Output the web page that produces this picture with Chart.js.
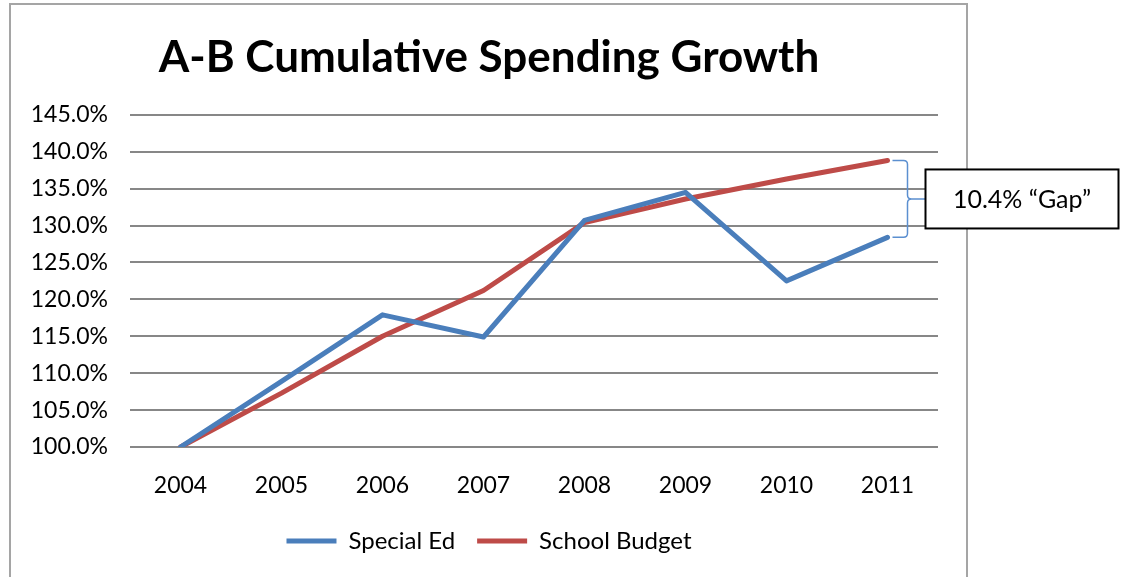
<!DOCTYPE html>
<html>
<head>
<meta charset="utf-8">
<script src="https://cdn.jsdelivr.net/npm/chart.js@4.4.1/dist/chart.umd.min.js"></script>
<style>
  html, body { margin: 0; padding: 0; background: #fff; }
  #wrap { width: 1125px; height: 577px; }
</style>
</head>
<body>
<div id="wrap"><canvas id="growthChart" width="1125" height="577"></canvas></div>
<script>
const years = ["2004", "2005", "2006", "2007", "2008", "2009", "2010", "2011"];
const specialEd = [100.0, 108.9, 117.9, 114.9, 130.7, 134.5, 122.5, 128.4];
const schoolBudget = [100.0, 107.3, 115.0, 121.2, 130.4, 133.6, 136.3, 138.8];
const yTicks = [100, 105, 110, 115, 120, 125, 130, 135, 140, 145];
const gapLabel = "10.4% \u201cGap\u201d";

const FONT = "Lato, 'Open Sans', sans-serif";
const BLUE = "#4a7ebb";
const RED = "#be4b48";

// outer frame of the chart box, runs off the bottom edge
const framePlugin = {
  id: "frame",
  beforeDraw(chart) {
    const ctx = chart.ctx;
    ctx.save();
    ctx.strokeStyle = "#a5a5a5";
    ctx.lineWidth = 2;
    ctx.strokeRect(10, 4, 957, 600);
    ctx.restore();
  }
};

// bracket between the two 2011 values plus the callout box
const gapPlugin = {
  id: "gapCallout",
  afterDatasetsDraw(chart) {
    const ctx = chart.ctx;
    const x = chart.scales.x.getPixelForValue(years.length - 1);
    const yTop = chart.scales.y.getPixelForValue(schoolBudget[schoolBudget.length - 1]);
    const yBot = chart.scales.y.getPixelForValue(specialEd[specialEd.length - 1]);
    const yMid = (yTop + yBot) / 2;
    const x0 = x + 5, xb = x + 20, r = 4;

    ctx.save();
    ctx.strokeStyle = "#5b8fd0";
    ctx.lineWidth = 1.5;
    ctx.beginPath();
    ctx.moveTo(x0, yTop);
    ctx.lineTo(xb - r, yTop);
    ctx.quadraticCurveTo(xb, yTop, xb, yTop + r);
    ctx.lineTo(xb, yMid - r);
    ctx.quadraticCurveTo(xb, yMid, xb + r, yMid);
    ctx.lineTo(x + 38, yMid);
    ctx.moveTo(xb + r, yMid);
    ctx.quadraticCurveTo(xb, yMid, xb, yMid + r);
    ctx.lineTo(xb, yBot - r);
    ctx.quadraticCurveTo(xb, yBot, xb - r, yBot);
    ctx.lineTo(x0, yBot);
    ctx.stroke();

    const bx = x + 38, bw = 193, bh = 59, by = yMid - bh / 2;
    ctx.fillStyle = "#fff";
    ctx.fillRect(bx, by, bw, bh);
    ctx.strokeStyle = "#000";
    ctx.lineWidth = 2;
    ctx.strokeRect(bx, by, bw, bh);
    ctx.fillStyle = "#000";
    ctx.font = "25px " + FONT;
    ctx.textAlign = "center";
    ctx.textBaseline = "middle";
    ctx.fillText(gapLabel, bx + bw / 2, yMid + 1);
    ctx.restore();
  }
};

new Chart(document.getElementById("growthChart"), {
  type: "line",
  data: {
    labels: years,
    datasets: [
      {
        label: "Special Ed",
        data: specialEd,
        borderColor: BLUE,
        backgroundColor: BLUE,
        borderWidth: 5,
        pointRadius: 0,
        tension: 0,
        borderCapStyle: "round",
        borderJoinStyle: "round"
      },
      {
        label: "School Budget",
        data: schoolBudget,
        borderColor: RED,
        backgroundColor: RED,
        borderWidth: 5,
        pointRadius: 0,
        tension: 0,
        borderCapStyle: "round",
        borderJoinStyle: "round"
      }
    ]
  },
  options: {
    responsive: false,
    animation: false,
    layout: { padding: { left: 10, right: 157, top: 0, bottom: 14 } },
    plugins: {
      title: {
        display: true,
        text: "A-B Cumulative Spending Growth",
        color: "#000",
        font: { family: FONT, size: 44, weight: "bold" },
        padding: { top: 31, bottom: 31 }
      },
      legend: {
        position: "bottom",
        labels: {
          color: "#000",
          font: { family: FONT, size: 24, lineHeight: 1 },
          usePointStyle: true,
          pointStyle: "line",
          pointStyleWidth: 50,
          padding: 22
        }
      },
      tooltip: { enabled: false }
    },
    scales: {
      x: {
        offset: true,
        grid: { display: false, offset: true },
        border: { display: false },
        ticks: { color: "#000", font: { family: FONT, size: 23 }, padding: 17, maxRotation: 0 },
        afterFit(scale) { scale.height = 60; }
      },
      y: {
        min: 100,
        max: 145,
        afterBuildTicks(scale) { scale.ticks = yTicks.map(v => ({ value: v })); },
        grid: { color: "#878787", lineWidth: 2, drawTicks: false },
        border: { display: false },
        ticks: {
          color: "#000",
          font: { family: FONT, size: 23 },
          padding: 22,
          callback: v => v.toFixed(1) + "%"
        },
        afterFit(scale) { scale.width = 120; }
      },
      spacer: {
        position: "right",
        grid: { display: false },
        border: { display: false },
        ticks: { display: false },
        afterFit(scale) { scale.width = 30; }
      }
    }
  },
  plugins: [framePlugin, gapPlugin]
});
</script>
</body>
</html>
